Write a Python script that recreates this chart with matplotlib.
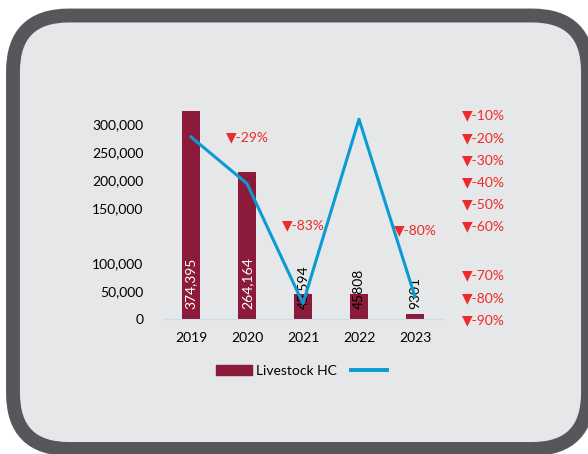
import matplotlib
matplotlib.use("Agg")
import matplotlib.pyplot as plt
from matplotlib.patches import FancyBboxPatch, Patch
from matplotlib.lines import Line2D
import numpy as np

plt.rcParams['font.family'] = ['Lato', 'DejaVu Sans']

years = ['2019', '2020', '2021', '2022', '2023']
livestock_hc = [374395, 264164, 45594, 45808, 9301]
hc_labels = ['374,395', '264,164', '45,594', '45808', '9301']
pct_change = [-8, -29, -83, 0, -80]
change_labels = {1: '▼-29%', 2: '▼-83%', 4: '▼-80%'}

left_tick_pos = [0, 50000, 100000, 200000, 250000, 300000, 350000]
left_tick_labels = ['0', '50,000', '100,000', '150,000', '200,000', '250,000', '300,000']
right_tick_pos = [-90, -80, -70, -48, -38, -28, -18, -8, 2]
right_tick_labels = ['▼-90%', '▼-80%', '▼-70%', '▼-60%', '▼-50%', '▼-40%',
                     '▼-30%', '▼-20%', '▼-10%']

maroon = '#8C1A3A'
blue = '#0A9AD4'
red = '#EE2A2A'

W, H = 588, 454
fig = plt.figure(figsize=(W / 100, H / 100), dpi=100)
fig.patch.set_facecolor('white')

# rounded card behind the chart
bg = fig.add_axes([0, 0, 1, 1])
bg.set_xlim(0, W)
bg.set_ylim(H, 0)
bg.axis('off')
card = FancyBboxPatch((13, 15.5), W - 13, 449 - 15.5,
                      boxstyle="round,pad=0,rounding_size=56",
                      fc='#E6E7E8', ec='#56575B', lw=10)
bg.add_patch(card)

ax = fig.add_axes([163 / W, (H - 319) / H, 280 / W, 214 / H])
ax.set_facecolor('none')
x = np.arange(len(years))
ax.bar(x, livestock_hc, width=0.32, color=maroon)
ax.set_xlim(-0.5, 4.5)
ax.set_ylim(0, 214 * 1800)
ax.set_xticks(x)
ax.set_xticklabels(years, fontsize=10)
ax.set_yticks(left_tick_pos)
ax.set_yticklabels(left_tick_labels, fontsize=10)
ax.tick_params(axis='y', length=0, pad=14)
ax.tick_params(axis='x', length=0, pad=9)
for s in ['top', 'right', 'left']:
    ax.spines[s].set_visible(False)
ax.spines['bottom'].set_color('#C9DDF0')

for i, lab in enumerate(hc_labels):
    col = 'white' if i < 2 else 'black'
    ax.text(x[i], 18000, lab, rotation=90, ha='center', va='bottom',
            fontsize=10, color=col)

ax2 = ax.twinx()
ax2.set_ylim(-90, -90 + 214 / 2.22)
ax2.plot(x, pct_change, color=blue, lw=2.2)
ax2.set_yticks(right_tick_pos)
ax2.set_yticklabels(right_tick_labels, fontsize=10, color=red)
ax2.tick_params(axis='y', length=0, pad=14)
for s in ax2.spines.values():
    s.set_visible(False)

label_at = {1: -8, 2: -48, 4: -50}
for i, txt in change_labels.items():
    ax2.text(x[i], label_at[i], txt, ha='center', va='center',
             fontsize=10, color=red)

handles = [Patch(color=maroon), Line2D([], [], color=blue, lw=2.8)]
fig.legend(handles, ['Livestock HC', ''], loc='center',
           bbox_to_anchor=(303.5 / W, 1 - 371 / H), ncol=2, frameon=False,
           fontsize=10, handlelength=2.6, handletextpad=0.3,
           columnspacing=1.0)

fig.savefig('out.png', dpi=100)
